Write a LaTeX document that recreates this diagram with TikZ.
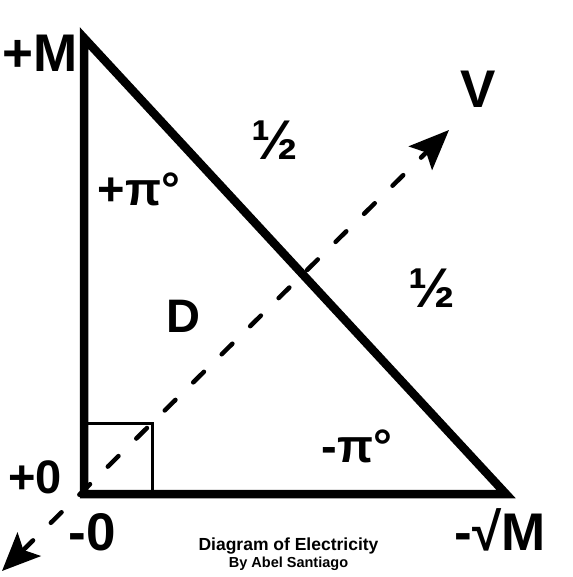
\documentclass[tikz,border=0pt]{standalone}
\usepackage{fontspec}
\setmainfont{Liberation Sans}
\usetikzlibrary{arrows.meta}
\begin{document}
\begin{tikzpicture}[x=1pt,y=-1pt,
  big/.style={font=\fontsize{53}{53}\selectfont\bfseries,inner sep=0pt,anchor=base},
  mid/.style={font=\fontsize{47}{47}\selectfont\bfseries,inner sep=0pt,anchor=base},
  half/.style={font=\fontsize{56}{56}\selectfont\bfseries,inner sep=0pt,anchor=base},
  edge/.style={line width=8.5pt,line join=miter},
  vec/.style={line width=4.5pt,line cap=round,dash pattern=on 15pt off 25pt,
    {Stealth[length=38pt,width=33pt,inset=8pt,line cap=butt]}-{Stealth[length=40pt,width=33pt,inset=8pt,line cap=butt]}},
  sq/.style={line width=3pt}]
\useasboundingbox (0,0) rectangle (572,577);
\coordinate (A) at (84,38);
\coordinate (B) at (84,494);
\coordinate (C) at (506,494);
\coordinate (vtail) at (2,571);
\coordinate (vtip) at (449,130);
\coordinate (s1) at (152,494);
\coordinate (s2) at (152,423);
\coordinate (s3) at (84,423);
\draw[vec] (vtail) -- (vtip);
\draw[sq] (s3) -- (s2) -- (s1);
\draw[edge] (A) -- (B) -- (C) -- cycle;
\node[big] (lM) at (40,72) {+M};
\node[big] (lV) at (478,108) {V};
\node[big] (l0m) at (92,550) {-0};
\node[big] (lsM) at (500,550) {-√M};
\node[mid] (l0p) at (35,493) {+0};
\node[mid] (lD) at (183,332) {D};
\node[mid] (lpp) at (139,205) {+π°};
\node[mid] (lpm) at (357,462) {-π°};
\node[half] (h1) at (275,160) {½};
\node[half] (h2) at (432,307) {½};
\node[font=\fontsize{17.5}{17.5}\selectfont\bfseries,inner sep=0pt,anchor=base] (t1) at (288.5,550) {Diagram of Electricity};
\node[font=\fontsize{14.5}{14.5}\selectfont\bfseries,inner sep=0pt,anchor=base] (t2) at (288.5,567) {By Abel Santiago};
\end{tikzpicture}
\end{document}
